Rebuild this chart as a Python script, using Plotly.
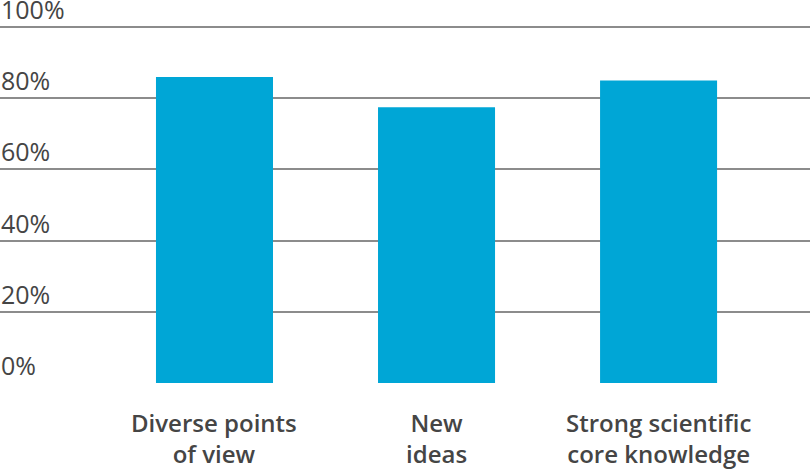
import plotly.graph_objects as go

categories = ["Diverse points<br>of view", "New<br>ideas", "Strong scientific<br>core knowledge"]
values = [86, 77.5, 85]
tick_values = [0, 20, 40, 60, 80, 100]
tick_labels = ["0%", "20%", "40%", "60%", "80%", "100%"]

BAR_COLOR = "#00A6D6"
TEXT_COLOR = "#454545"
GRID_COLOR = "#8c8c8c"
FONT = "Open Sans"

fig = go.Figure()
fig.add_trace(go.Bar(
    x=list(range(len(categories))),
    y=values,
    marker=dict(color=BAR_COLOR, line=dict(width=0)),
    width=0.527,
    hoverinfo="skip",
))

annotations = []
for i, cat in enumerate(categories):
    annotations.append(dict(
        x=i, y=0, xref="x", yref="y",
        text=cat, showarrow=False,
        xanchor="center", yanchor="top",
        yshift=-21,
        font=dict(family=FONT, size=24, color=TEXT_COLOR, weight=600),
    ))

# y tick labels sit above their gridlines, left-aligned
for v, lab in zip(tick_values, tick_labels):
    annotations.append(dict(
        x=0, y=v, xref="paper", yref="y",
        text=lab, showarrow=False,
        xanchor="left", yanchor="bottom",
        yshift=-1, xshift=-1,
        font=dict(family=FONT, size=25, color=TEXT_COLOR, weight=500),
    ))

fig.update_layout(
    width=810, height=472,
    margin=dict(l=0, r=0, t=0, b=89, pad=0),
    paper_bgcolor="white", plot_bgcolor="white",
    showlegend=False,
    annotations=annotations,
    xaxis=dict(
        range=[-0.966, 2.682], automargin=False,
        showticklabels=False, showgrid=False, zeroline=False,
        showline=False, ticks="",
    ),
    yaxis=dict(
        range=[0, 107.6], automargin=False,
        tickvals=tick_values, showticklabels=False,
        showgrid=True, gridcolor=GRID_COLOR, gridwidth=1.5,
        zeroline=False, showline=False, ticks="",
    ),
)

fig.write_html(
    "out.html",
    config={"displayModeBar": False},
    post_script="document.body.style.margin='0';document.body.style.overflow='hidden';",
)
